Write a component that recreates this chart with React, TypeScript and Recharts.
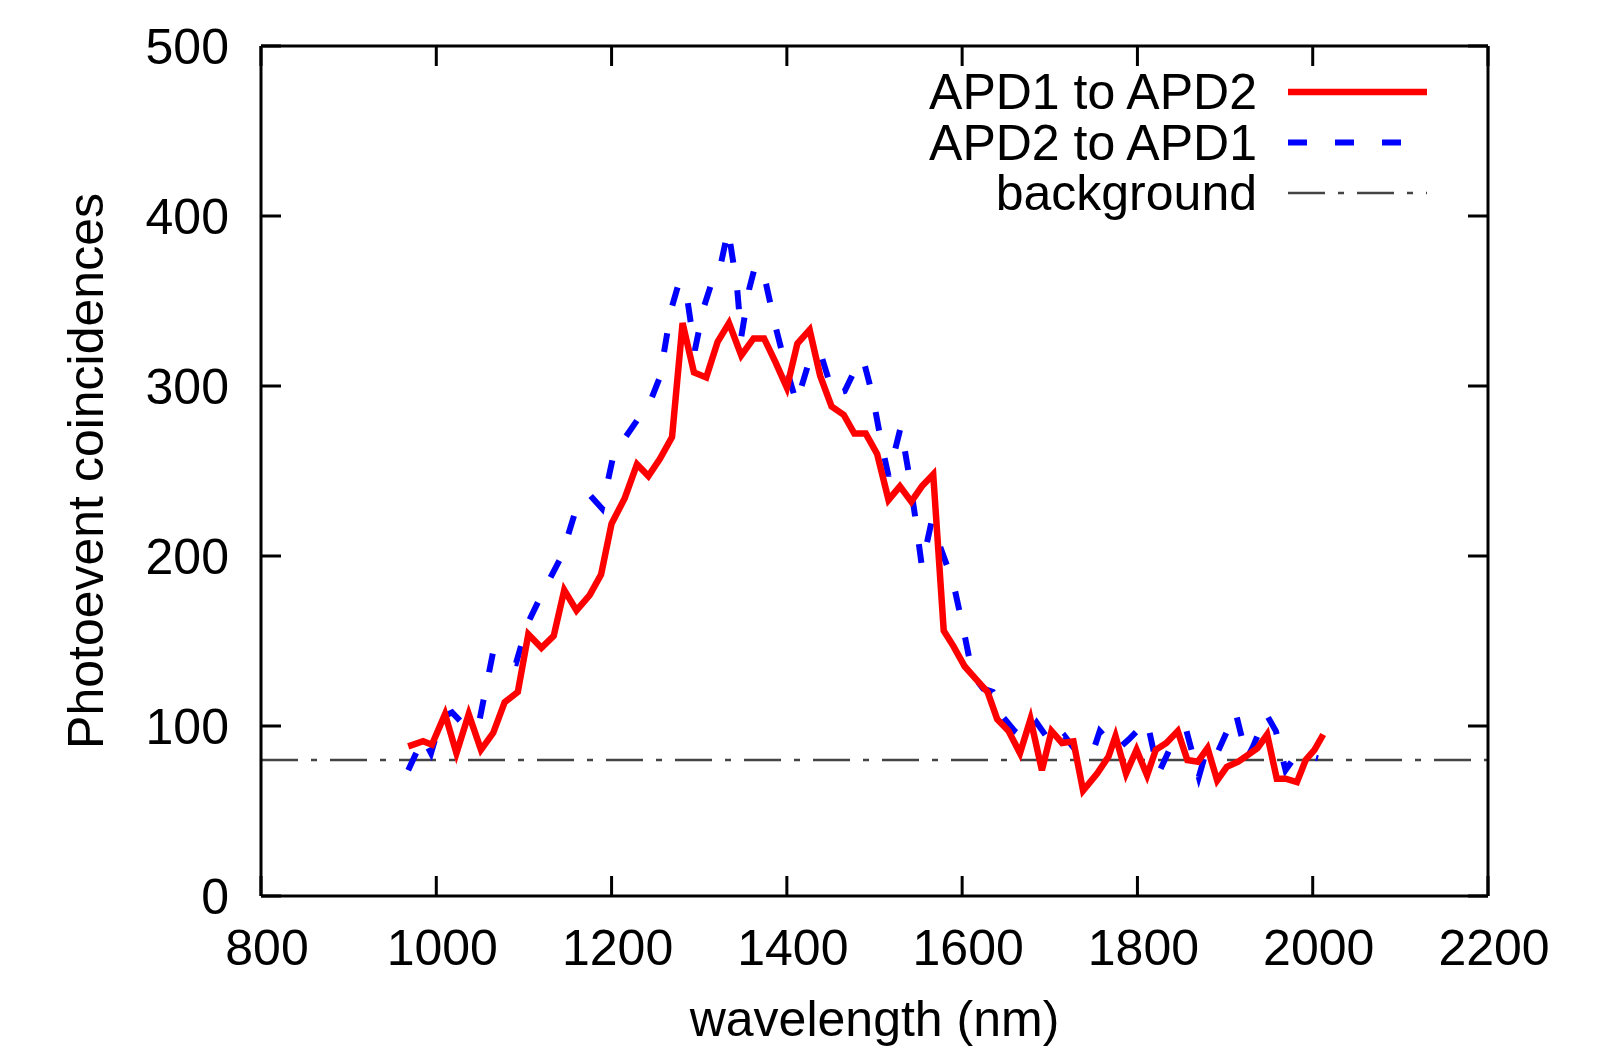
import React from "react";
import { LineChart, Line, XAxis, YAxis, Legend, Label } from "recharts";

// APD1 -> APD2 (red, solid)
const apd12Wavelength = [
  968, 985, 995, 1010, 1023, 1037, 1051, 1065, 1078, 1093, 1105, 1120, 1134, 1146, 1160, 1175, 1188,
  1200, 1215, 1229, 1242, 1255, 1269, 1281, 1294, 1308, 1321, 1334, 1348, 1362, 1374, 1387, 1400,
  1412, 1426, 1438, 1451, 1465, 1477, 1490, 1503, 1516, 1529, 1542, 1554, 1567, 1579, 1590, 1603,
  1615, 1629, 1640, 1653, 1666, 1678, 1691, 1702, 1714, 1727, 1738, 1754, 1767, 1775, 1787, 1799,
  1811, 1821, 1833, 1846, 1857, 1869, 1880, 1891, 1902, 1915, 1929, 1937, 1948, 1959, 1969, 1982,
  1992, 2002, 2012,
];
const apd12Counts = [
  88, 91, 89, 107, 84, 107, 86, 96, 114, 120, 154, 146, 153, 180, 168, 177, 189,
  219, 234, 254, 247, 257, 270, 337, 308, 305, 326, 337, 318, 328, 328, 314, 299,
  325, 333, 306, 288, 283, 272, 272, 260, 233, 241, 232, 241, 248, 156, 147, 135,
  128, 120, 104, 97, 84, 104, 74, 97, 90, 91, 62, 72, 82, 94, 72, 86,
  71, 86, 90, 97, 80, 79, 87, 68, 76, 79, 84, 87, 95, 69, 69, 67,
  80, 86, 95,
];

// APD2 -> APD1 (blue, dashed)
const apd21Wavelength = [
  968, 985, 994, 1006, 1018, 1031, 1048, 1065, 1078, 1091, 1104, 1118, 1131, 1143, 1158, 1175, 1189,
  1202, 1216, 1232, 1245, 1255, 1268, 1277, 1287, 1295, 1305, 1315, 1324, 1333, 1343, 1348, 1357,
  1364, 1375, 1387, 1398, 1411, 1424, 1438, 1453, 1466, 1480, 1487, 1498, 1508, 1516, 1530, 1539,
  1547, 1554, 1565, 1571, 1590, 1601, 1612, 1624, 1635, 1647, 1660, 1672, 1685, 1704, 1717, 1735,
  1750, 1757, 1777, 1790, 1811, 1824, 1840, 1856, 1870, 1880, 1891, 1912, 1925, 1932, 1947, 1958,
  1969, 1980, 1992, 2006,
];
const apd21Counts = [
  74, 93, 84, 105, 108, 101, 100, 144, 138, 137, 160, 175, 188, 200, 225, 236, 228,
  259, 270, 282, 292, 305, 345, 361, 349, 321, 346, 362, 370, 392, 359, 329, 357,
  371, 363, 335, 313, 290, 312, 320, 295, 297, 312, 316, 294, 266, 247, 276, 249,
  221, 194, 220, 211, 184, 158, 130, 122, 120, 105, 97, 92, 102, 88, 94, 82,
  86, 97, 86, 92, 103, 72, 90, 97, 70, 88, 84, 108, 81, 88, 107, 97,
  74, 82, 83, 81,
];

const BACKGROUND = 80;
const xRange = [800, 2200];
const xTicks = [800, 1000, 1200, 1400, 1600, 1800, 2000, 2200];
const yTicks = [0, 100, 200, 300, 400, 500];

const legendItems = [
  { label: "APD1 to APD2", color: "#ff0000", width: 6.5, dash: undefined as string | undefined },
  { label: "APD2 to APD1", color: "#0000ff", width: 6, dash: "19 28" },
  { label: "background", color: "#444444", width: 2.5, dash: "37 13 6 13" },
];

const apd12 = apd12Wavelength.map((x, i) => ({ x, y: apd12Counts[i] }));
const apd21 = apd21Wavelength.map((x, i) => ({ x, y: apd21Counts[i] }));
const background = xRange.map((x) => ({ x, y: BACKGROUND }));

const FONT = "'Liberation Sans', Arial, Helvetica, sans-serif";
const axisStroke = { stroke: "#000", strokeWidth: 3 };
const noLabel = () => "";

function LegendBox() {
  return (
    <svg width={560} height={180} style={{ display: "block" }}>
      {legendItems.map((item, i) => {
        const cy = 37 + i * 50.5;
        return (
          <g key={item.label}>
            <text x={357} y={cy + 17} textAnchor="end" fontSize={50} fontFamily={FONT} fill="#000">
              {item.label}
            </text>
            <line
              x1={388}
              x2={527}
              y1={cy}
              y2={cy}
              stroke={item.color}
              strokeWidth={item.width}
              strokeDasharray={item.dash}
            />
          </g>
        );
      })}
    </svg>
  );
}

export default function App() {
  return (
    <div style={{ position: "absolute", left: 0, top: 0, width: 1616, height: 1049, background: "#fff" }}>
      <LineChart
        width={1616}
        height={1049}
        margin={{ top: 45, right: 127, bottom: 0, left: 0 }}
        style={{ fontFamily: FONT }}
      >
        <XAxis
          xAxisId="bottom"
          type="number"
          dataKey="x"
          domain={xRange}
          ticks={xTicks}
          allowDataOverflow
          height={153}
          tickSize={-20}
          tickMargin={53}
          tick={{ fontSize: 50, fill: "#000", fontFamily: FONT, dx: 6 }}
          axisLine={axisStroke}
          tickLine={axisStroke}
        >
          <Label
            content={({ viewBox }: any) => (
              <text
                x={viewBox.x + viewBox.width / 2}
                y={1036}
                textAnchor="middle"
                fontSize={50}
                fontFamily={FONT}
                fill="#000"
              >
                wavelength (nm)
              </text>
            )}
          />
        </XAxis>
        <XAxis
          xAxisId="top"
          orientation="top"
          type="number"
          dataKey="x"
          domain={xRange}
          ticks={xTicks}
          allowDataOverflow
          height={1}
          tickSize={-20}
          tickFormatter={noLabel}
          tick={{ fontSize: 1 }}
          axisLine={axisStroke}
          tickLine={axisStroke}
        />
        <YAxis
          yAxisId="left"
          type="number"
          domain={[0, 500]}
          ticks={yTicks}
          allowDataOverflow
          width={261}
          tickSize={-20}
          tickMargin={52}
          tick={{ fontSize: 50, fill: "#000", fontFamily: FONT }}
          axisLine={axisStroke}
          tickLine={axisStroke}
        >
          <Label
            content={({ viewBox }: any) => {
              const cy = viewBox.y + viewBox.height / 2;
              return (
                <text
                  x={103}
                  y={cy}
                  transform={`rotate(-90, 103, ${cy})`}
                  textAnchor="middle"
                  fontSize={50}
                  fontFamily={FONT}
                  fill="#000"
                >
                  Photoevent coincidences
                </text>
              );
            }}
          />
        </YAxis>
        <YAxis
          yAxisId="right"
          orientation="right"
          type="number"
          domain={[0, 500]}
          ticks={yTicks}
          allowDataOverflow
          width={1}
          tickSize={-20}
          tickFormatter={noLabel}
          tick={{ fontSize: 1 }}
          axisLine={axisStroke}
          tickLine={axisStroke}
        />
        <Line
          xAxisId="top"
          yAxisId="right"
          data={background}
          dataKey="y"
          type="linear"
          stroke="#444444"
          strokeWidth={2.5}
          strokeDasharray="37 13 6 13"
          dot={false}
          activeDot={false}
          isAnimationActive={false}
        />
        <Line
          xAxisId="bottom"
          yAxisId="left"
          data={apd21}
          dataKey="y"
          type="linear"
          stroke="#0000ff"
          strokeWidth={6}
          strokeDasharray="19 28"
          strokeLinejoin="miter"
          dot={false}
          isAnimationActive={false}
        />
        <Line
          xAxisId="bottom"
          yAxisId="left"
          data={apd12}
          dataKey="y"
          type="linear"
          stroke="#ff0000"
          strokeWidth={6.5}
          strokeLinejoin="miter"
          dot={false}
          isAnimationActive={false}
        />
        <Legend
          layout="vertical"
          align="center"
          verticalAlign="middle"
          wrapperStyle={{ position: "absolute", left: 900, top: 55, width: 560 }}
          content={() => <LegendBox />}
        />
      </LineChart>
    </div>
  );
}
